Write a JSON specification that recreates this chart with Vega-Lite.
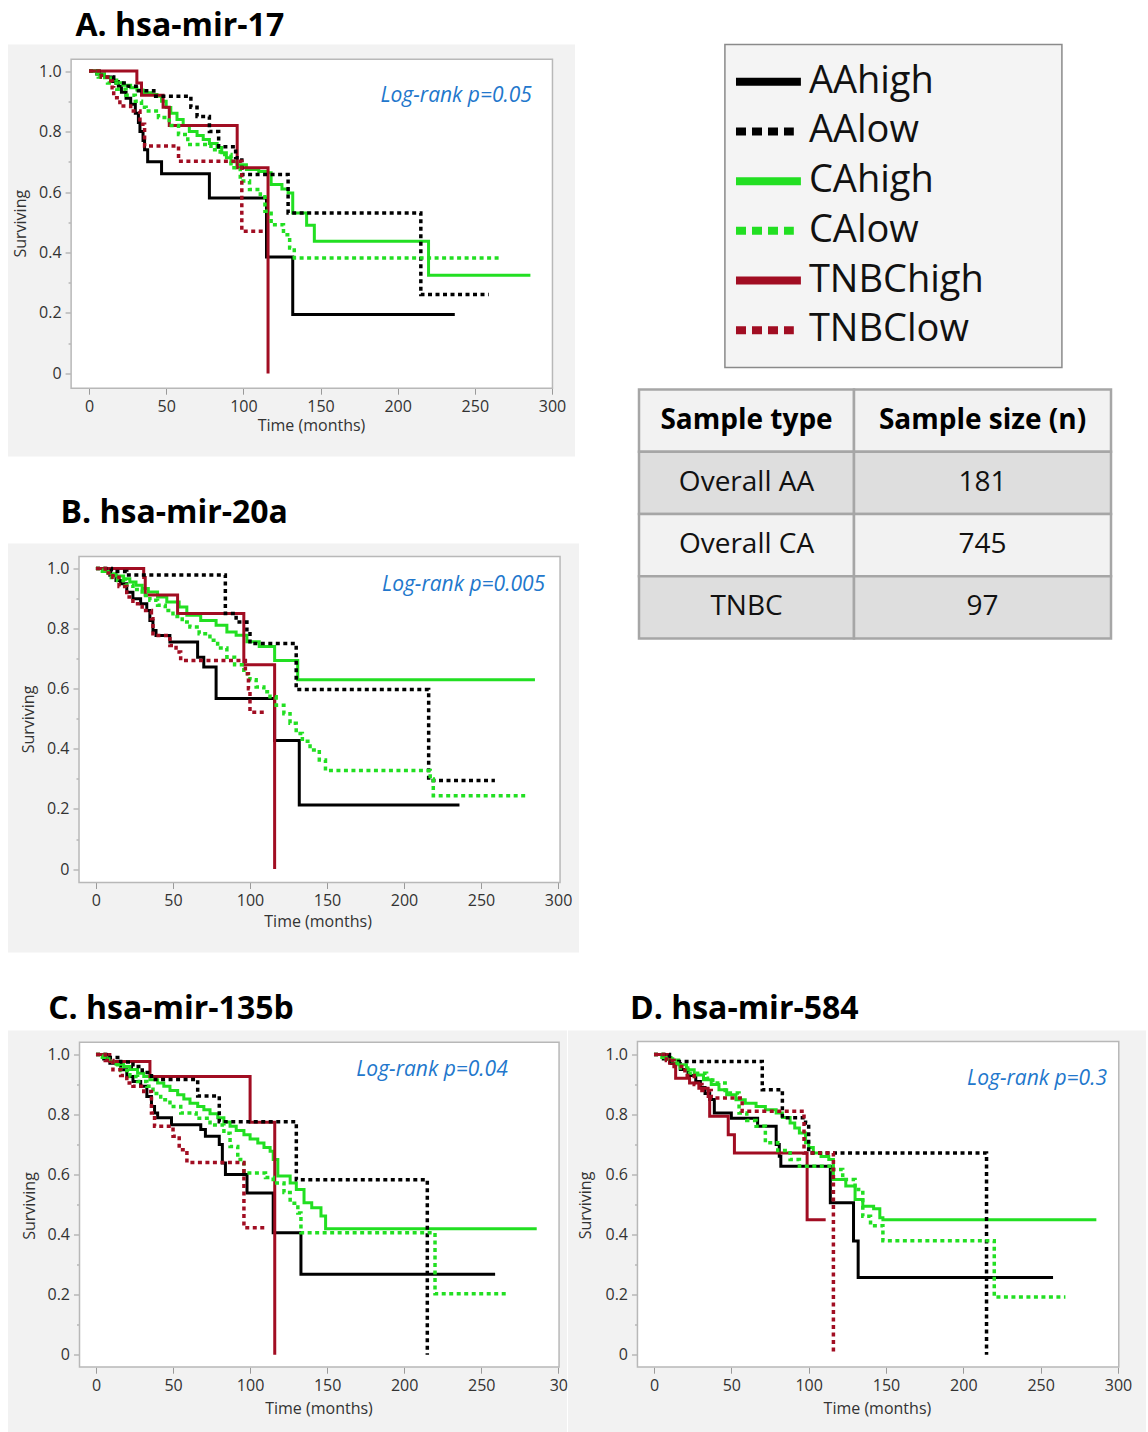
{
"$schema":"https://vega.github.io/schema/vega-lite/v6.json",
"padding":{"left":8,"top":9.5,"right":0,"bottom":0},
"background":"white",
"spacing":40,
"datasets":{
"km":[
{"panel":"A","group":"AAhigh","t":0,"s":1},{"panel":"A","group":"AAhigh","t":5,"s":0.99},{"panel":"A","group":"AAhigh","t":10,"s":0.98},{"panel":"A","group":"AAhigh","t":15,"s":0.965},{"panel":"A","group":"AAhigh","t":19,"s":0.95},{"panel":"A","group":"AAhigh","t":21,"s":0.93},{"panel":"A","group":"AAhigh","t":24,"s":0.91},{"panel":"A","group":"AAhigh","t":27,"s":0.89},{"panel":"A","group":"AAhigh","t":30,"s":0.86},{"panel":"A","group":"AAhigh","t":32,"s":0.83},{"panel":"A","group":"AAhigh","t":33,"s":0.8},{"panel":"A","group":"AAhigh","t":35,"s":0.77},{"panel":"A","group":"AAhigh","t":36,"s":0.74},{"panel":"A","group":"AAhigh","t":38,"s":0.7},{"panel":"A","group":"AAhigh","t":47,"s":0.66},{"panel":"A","group":"AAhigh","t":78,"s":0.58},{"panel":"A","group":"AAhigh","t":115,"s":0.385},{"panel":"A","group":"AAhigh","t":132,"s":0.195},{"panel":"A","group":"AAhigh","t":237,"s":0.195},
{"panel":"A","group":"AAlow","t":0,"s":1},{"panel":"A","group":"AAlow","t":8,"s":0.98},{"panel":"A","group":"AAlow","t":16,"s":0.96},{"panel":"A","group":"AAlow","t":24,"s":0.95},{"panel":"A","group":"AAlow","t":32,"s":0.935},{"panel":"A","group":"AAlow","t":42,"s":0.917},{"panel":"A","group":"AAlow","t":66,"s":0.88},{"panel":"A","group":"AAlow","t":70,"s":0.85},{"panel":"A","group":"AAlow","t":78,"s":0.8},{"panel":"A","group":"AAlow","t":84,"s":0.75},{"panel":"A","group":"AAlow","t":95,"s":0.713},{"panel":"A","group":"AAlow","t":99,"s":0.658},{"panel":"A","group":"AAlow","t":129,"s":0.531},{"panel":"A","group":"AAlow","t":215,"s":0.261},{"panel":"A","group":"AAlow","t":259,"s":0.261},
{"panel":"A","group":"CAhigh","t":0,"s":1},{"panel":"A","group":"CAhigh","t":5,"s":0.99},{"panel":"A","group":"CAhigh","t":10,"s":0.978},{"panel":"A","group":"CAhigh","t":14,"s":0.97},{"panel":"A","group":"CAhigh","t":18,"s":0.961},{"panel":"A","group":"CAhigh","t":22,"s":0.953},{"panel":"A","group":"CAhigh","t":27,"s":0.945},{"panel":"A","group":"CAhigh","t":31,"s":0.937},{"panel":"A","group":"CAhigh","t":35,"s":0.928},{"panel":"A","group":"CAhigh","t":40,"s":0.922},{"panel":"A","group":"CAhigh","t":44,"s":0.917},{"panel":"A","group":"CAhigh","t":47,"s":0.9},{"panel":"A","group":"CAhigh","t":50,"s":0.879},{"panel":"A","group":"CAhigh","t":53,"s":0.86},{"panel":"A","group":"CAhigh","t":57,"s":0.84},{"panel":"A","group":"CAhigh","t":61,"s":0.82},{"panel":"A","group":"CAhigh","t":65,"s":0.8},{"panel":"A","group":"CAhigh","t":70,"s":0.787},{"panel":"A","group":"CAhigh","t":74,"s":0.774},{"panel":"A","group":"CAhigh","t":78,"s":0.76},{"panel":"A","group":"CAhigh","t":83,"s":0.747},{"panel":"A","group":"CAhigh","t":86,"s":0.73},{"panel":"A","group":"CAhigh","t":89,"s":0.713},{"panel":"A","group":"CAhigh","t":92,"s":0.7},{"panel":"A","group":"CAhigh","t":96,"s":0.69},{"panel":"A","group":"CAhigh","t":102,"s":0.674},{"panel":"A","group":"CAhigh","t":110,"s":0.668},{"panel":"A","group":"CAhigh","t":115,"s":0.664},{"panel":"A","group":"CAhigh","t":118,"s":0.625},{"panel":"A","group":"CAhigh","t":125,"s":0.61},{"panel":"A","group":"CAhigh","t":129,"s":0.597},{"panel":"A","group":"CAhigh","t":132,"s":0.531},{"panel":"A","group":"CAhigh","t":141,"s":0.49},{"panel":"A","group":"CAhigh","t":146,"s":0.437},{"panel":"A","group":"CAhigh","t":220,"s":0.325},{"panel":"A","group":"CAhigh","t":286,"s":0.325},
{"panel":"A","group":"CAlow","t":0,"s":1},{"panel":"A","group":"CAlow","t":6,"s":0.98},{"panel":"A","group":"CAlow","t":12,"s":0.96},{"panel":"A","group":"CAlow","t":18,"s":0.94},{"panel":"A","group":"CAlow","t":24,"s":0.92},{"panel":"A","group":"CAlow","t":30,"s":0.9},{"panel":"A","group":"CAlow","t":34,"s":0.88},{"panel":"A","group":"CAlow","t":37,"s":0.868},{"panel":"A","group":"CAlow","t":45,"s":0.846},{"panel":"A","group":"CAlow","t":52,"s":0.82},{"panel":"A","group":"CAlow","t":58,"s":0.79},{"panel":"A","group":"CAlow","t":64,"s":0.757},{"panel":"A","group":"CAlow","t":79,"s":0.74},{"panel":"A","group":"CAlow","t":85,"s":0.724},{"panel":"A","group":"CAlow","t":92,"s":0.68},{"panel":"A","group":"CAlow","t":98,"s":0.636},{"panel":"A","group":"CAlow","t":104,"s":0.608},{"panel":"A","group":"CAlow","t":111,"s":0.592},{"panel":"A","group":"CAlow","t":114,"s":0.536},{"panel":"A","group":"CAlow","t":118,"s":0.492},{"panel":"A","group":"CAlow","t":126,"s":0.459},{"panel":"A","group":"CAlow","t":130,"s":0.415},{"panel":"A","group":"CAlow","t":133,"s":0.382},{"panel":"A","group":"CAlow","t":267,"s":0.382},
{"panel":"A","group":"TNBChigh","t":0,"s":1},{"panel":"A","group":"TNBChigh","t":31,"s":0.96},{"panel":"A","group":"TNBChigh","t":34,"s":0.92},{"panel":"A","group":"TNBChigh","t":48,"s":0.88},{"panel":"A","group":"TNBChigh","t":52,"s":0.82},{"panel":"A","group":"TNBChigh","t":96,"s":0.68},{"panel":"A","group":"TNBChigh","t":116,"s":0},
{"panel":"A","group":"TNBClow","t":0,"s":1},{"panel":"A","group":"TNBClow","t":8,"s":0.98},{"panel":"A","group":"TNBClow","t":12,"s":0.967},{"panel":"A","group":"TNBClow","t":15,"s":0.945},{"panel":"A","group":"TNBClow","t":16,"s":0.912},{"panel":"A","group":"TNBClow","t":20,"s":0.884},{"panel":"A","group":"TNBClow","t":27,"s":0.868},{"panel":"A","group":"TNBClow","t":33,"s":0.824},{"panel":"A","group":"TNBClow","t":36,"s":0.752},{"panel":"A","group":"TNBClow","t":58,"s":0.702},{"panel":"A","group":"TNBClow","t":99,"s":0.47},{"panel":"A","group":"TNBClow","t":113,"s":0.47},
{"panel":"B","group":"AAhigh","t":0,"s":1},{"panel":"B","group":"AAhigh","t":5,"s":0.99},{"panel":"B","group":"AAhigh","t":9,"s":0.977},{"panel":"B","group":"AAhigh","t":13,"s":0.96},{"panel":"B","group":"AAhigh","t":16,"s":0.949},{"panel":"B","group":"AAhigh","t":20,"s":0.921},{"panel":"B","group":"AAhigh","t":24,"s":0.899},{"panel":"B","group":"AAhigh","t":29,"s":0.883},{"panel":"B","group":"AAhigh","t":33,"s":0.86},{"panel":"B","group":"AAhigh","t":35,"s":0.827},{"panel":"B","group":"AAhigh","t":37,"s":0.794},{"panel":"B","group":"AAhigh","t":39,"s":0.777},{"panel":"B","group":"AAhigh","t":48,"s":0.755},{"panel":"B","group":"AAhigh","t":66,"s":0.705},{"panel":"B","group":"AAhigh","t":70,"s":0.672},{"panel":"B","group":"AAhigh","t":78,"s":0.567},{"panel":"B","group":"AAhigh","t":116,"s":0.428},{"panel":"B","group":"AAhigh","t":132,"s":0.213},{"panel":"B","group":"AAhigh","t":236,"s":0.213},
{"panel":"B","group":"AAlow","t":0,"s":1},{"panel":"B","group":"AAlow","t":10,"s":0.99},{"panel":"B","group":"AAlow","t":20,"s":0.978},{"panel":"B","group":"AAlow","t":84,"s":0.85},{"panel":"B","group":"AAlow","t":91,"s":0.822},{"panel":"B","group":"AAlow","t":98,"s":0.789},{"panel":"B","group":"AAlow","t":100,"s":0.75},{"panel":"B","group":"AAlow","t":130,"s":0.597},{"panel":"B","group":"AAlow","t":216,"s":0.295},{"panel":"B","group":"AAlow","t":259,"s":0.295},
{"panel":"B","group":"CAhigh","t":0,"s":1},{"panel":"B","group":"CAhigh","t":4,"s":0.99},{"panel":"B","group":"CAhigh","t":9,"s":0.982},{"panel":"B","group":"CAhigh","t":13,"s":0.975},{"panel":"B","group":"CAhigh","t":18,"s":0.966},{"panel":"B","group":"CAhigh","t":22,"s":0.955},{"panel":"B","group":"CAhigh","t":26,"s":0.944},{"panel":"B","group":"CAhigh","t":30,"s":0.933},{"panel":"B","group":"CAhigh","t":34,"s":0.922},{"panel":"B","group":"CAhigh","t":40,"s":0.905},{"panel":"B","group":"CAhigh","t":46,"s":0.888},{"panel":"B","group":"CAhigh","t":54,"s":0.872},{"panel":"B","group":"CAhigh","t":59,"s":0.844},{"panel":"B","group":"CAhigh","t":68,"s":0.827},{"panel":"B","group":"CAhigh","t":78,"s":0.811},{"panel":"B","group":"CAhigh","t":85,"s":0.789},{"panel":"B","group":"CAhigh","t":91,"s":0.778},{"panel":"B","group":"CAhigh","t":98,"s":0.756},{"panel":"B","group":"CAhigh","t":106,"s":0.74},{"panel":"B","group":"CAhigh","t":116,"s":0.694},{"panel":"B","group":"CAhigh","t":131,"s":0.63},{"panel":"B","group":"CAhigh","t":285,"s":0.63},
{"panel":"B","group":"CAlow","t":0,"s":1},{"panel":"B","group":"CAlow","t":5,"s":0.985},{"panel":"B","group":"CAlow","t":10,"s":0.97},{"panel":"B","group":"CAlow","t":14,"s":0.96},{"panel":"B","group":"CAlow","t":19,"s":0.945},{"panel":"B","group":"CAlow","t":24,"s":0.93},{"panel":"B","group":"CAlow","t":30,"s":0.91},{"panel":"B","group":"CAlow","t":35,"s":0.894},{"panel":"B","group":"CAlow","t":40,"s":0.878},{"panel":"B","group":"CAlow","t":45,"s":0.86},{"panel":"B","group":"CAlow","t":50,"s":0.84},{"panel":"B","group":"CAlow","t":56,"s":0.822},{"panel":"B","group":"CAlow","t":61,"s":0.805},{"panel":"B","group":"CAlow","t":67,"s":0.783},{"panel":"B","group":"CAlow","t":74,"s":0.761},{"panel":"B","group":"CAlow","t":79,"s":0.735},{"panel":"B","group":"CAlow","t":85,"s":0.705},{"panel":"B","group":"CAlow","t":90,"s":0.68},{"panel":"B","group":"CAlow","t":96,"s":0.65},{"panel":"B","group":"CAlow","t":100,"s":0.63},{"panel":"B","group":"CAlow","t":104,"s":0.606},{"panel":"B","group":"CAlow","t":109,"s":0.59},{"panel":"B","group":"CAlow","t":113,"s":0.573},{"panel":"B","group":"CAlow","t":117,"s":0.545},{"panel":"B","group":"CAlow","t":122,"s":0.517},{"panel":"B","group":"CAlow","t":126,"s":0.485},{"panel":"B","group":"CAlow","t":130,"s":0.451},{"panel":"B","group":"CAlow","t":134,"s":0.425},{"panel":"B","group":"CAlow","t":139,"s":0.396},{"panel":"B","group":"CAlow","t":145,"s":0.363},{"panel":"B","group":"CAlow","t":149,"s":0.328},{"panel":"B","group":"CAlow","t":217,"s":0.3},{"panel":"B","group":"CAlow","t":219,"s":0.244},{"panel":"B","group":"CAlow","t":279,"s":0.244},
{"panel":"B","group":"TNBChigh","t":0,"s":1},{"panel":"B","group":"TNBChigh","t":31,"s":0.97},{"panel":"B","group":"TNBChigh","t":32,"s":0.912},{"panel":"B","group":"TNBChigh","t":53,"s":0.85},{"panel":"B","group":"TNBChigh","t":96,"s":0.68},{"panel":"B","group":"TNBChigh","t":116,"s":0},
{"panel":"B","group":"TNBClow","t":0,"s":1},{"panel":"B","group":"TNBClow","t":6,"s":0.985},{"panel":"B","group":"TNBClow","t":11,"s":0.971},{"panel":"B","group":"TNBClow","t":15,"s":0.94},{"panel":"B","group":"TNBClow","t":20,"s":0.905},{"panel":"B","group":"TNBClow","t":24,"s":0.883},{"panel":"B","group":"TNBClow","t":30,"s":0.86},{"panel":"B","group":"TNBClow","t":36,"s":0.833},{"panel":"B","group":"TNBClow","t":37,"s":0.777},{"panel":"B","group":"TNBClow","t":48,"s":0.744},{"panel":"B","group":"TNBClow","t":52,"s":0.722},{"panel":"B","group":"TNBClow","t":55,"s":0.694},{"panel":"B","group":"TNBClow","t":97,"s":0.65},{"panel":"B","group":"TNBClow","t":99,"s":0.6},{"panel":"B","group":"TNBClow","t":100,"s":0.522},{"panel":"B","group":"TNBClow","t":111,"s":0.522},
{"panel":"C","group":"AAhigh","t":0,"s":1},{"panel":"C","group":"AAhigh","t":5,"s":0.985},{"panel":"C","group":"AAhigh","t":9,"s":0.971},{"panel":"C","group":"AAhigh","t":16,"s":0.949},{"panel":"C","group":"AAhigh","t":20,"s":0.927},{"panel":"C","group":"AAhigh","t":24,"s":0.91},{"panel":"C","group":"AAhigh","t":29,"s":0.894},{"panel":"C","group":"AAhigh","t":33,"s":0.86},{"panel":"C","group":"AAhigh","t":36,"s":0.827},{"panel":"C","group":"AAhigh","t":38,"s":0.805},{"panel":"C","group":"AAhigh","t":40,"s":0.789},{"panel":"C","group":"AAhigh","t":49,"s":0.766},{"panel":"C","group":"AAhigh","t":68,"s":0.75},{"panel":"C","group":"AAhigh","t":71,"s":0.728},{"panel":"C","group":"AAhigh","t":80,"s":0.7},{"panel":"C","group":"AAhigh","t":82,"s":0.639},{"panel":"C","group":"AAhigh","t":84,"s":0.6},{"panel":"C","group":"AAhigh","t":98,"s":0.539},{"panel":"C","group":"AAhigh","t":115,"s":0.406},{"panel":"C","group":"AAhigh","t":133,"s":0.268},{"panel":"C","group":"AAhigh","t":259,"s":0.268},
{"panel":"C","group":"AAlow","t":0,"s":1},{"panel":"C","group":"AAlow","t":8,"s":0.99},{"panel":"C","group":"AAlow","t":16,"s":0.975},{"panel":"C","group":"AAlow","t":24,"s":0.96},{"panel":"C","group":"AAlow","t":30,"s":0.94},{"panel":"C","group":"AAlow","t":36,"s":0.917},{"panel":"C","group":"AAlow","t":66,"s":0.862},{"panel":"C","group":"AAlow","t":80,"s":0.776},{"panel":"C","group":"AAlow","t":130,"s":0.583},{"panel":"C","group":"AAlow","t":215,"s":0},
{"panel":"C","group":"CAhigh","t":0,"s":1},{"panel":"C","group":"CAhigh","t":4,"s":0.99},{"panel":"C","group":"CAhigh","t":9,"s":0.977},{"panel":"C","group":"CAhigh","t":13,"s":0.968},{"panel":"C","group":"CAhigh","t":18,"s":0.96},{"panel":"C","group":"CAhigh","t":22,"s":0.95},{"panel":"C","group":"CAhigh","t":27,"s":0.938},{"panel":"C","group":"CAhigh","t":31,"s":0.927},{"panel":"C","group":"CAhigh","t":35,"s":0.916},{"panel":"C","group":"CAhigh","t":40,"s":0.905},{"panel":"C","group":"CAhigh","t":44,"s":0.894},{"panel":"C","group":"CAhigh","t":48,"s":0.88},{"panel":"C","group":"CAhigh","t":53,"s":0.866},{"panel":"C","group":"CAhigh","t":57,"s":0.852},{"panel":"C","group":"CAhigh","t":61,"s":0.838},{"panel":"C","group":"CAhigh","t":66,"s":0.827},{"panel":"C","group":"CAhigh","t":70,"s":0.816},{"panel":"C","group":"CAhigh","t":74,"s":0.803},{"panel":"C","group":"CAhigh","t":79,"s":0.789},{"panel":"C","group":"CAhigh","t":83,"s":0.775},{"panel":"C","group":"CAhigh","t":87,"s":0.761},{"panel":"C","group":"CAhigh","t":91,"s":0.747},{"panel":"C","group":"CAhigh","t":96,"s":0.733},{"panel":"C","group":"CAhigh","t":100,"s":0.719},{"panel":"C","group":"CAhigh","t":105,"s":0.705},{"panel":"C","group":"CAhigh","t":109,"s":0.69},{"panel":"C","group":"CAhigh","t":113,"s":0.678},{"panel":"C","group":"CAhigh","t":115,"s":0.65},{"panel":"C","group":"CAhigh","t":118,"s":0.595},{"panel":"C","group":"CAhigh","t":126,"s":0.572},{"panel":"C","group":"CAhigh","t":130,"s":0.55},{"panel":"C","group":"CAhigh","t":135,"s":0.506},{"panel":"C","group":"CAhigh","t":140,"s":0.49},{"panel":"C","group":"CAhigh","t":146,"s":0.462},{"panel":"C","group":"CAhigh","t":149,"s":0.42},{"panel":"C","group":"CAhigh","t":286,"s":0.42},
{"panel":"C","group":"CAlow","t":0,"s":1},{"panel":"C","group":"CAlow","t":5,"s":0.985},{"panel":"C","group":"CAlow","t":11,"s":0.966},{"panel":"C","group":"CAlow","t":16,"s":0.947},{"panel":"C","group":"CAlow","t":22,"s":0.927},{"panel":"C","group":"CAlow","t":27,"s":0.91},{"panel":"C","group":"CAlow","t":33,"s":0.894},{"panel":"C","group":"CAlow","t":37,"s":0.87},{"panel":"C","group":"CAlow","t":42,"s":0.849},{"panel":"C","group":"CAlow","t":48,"s":0.827},{"panel":"C","group":"CAlow","t":55,"s":0.805},{"panel":"C","group":"CAlow","t":65,"s":0.788},{"panel":"C","group":"CAlow","t":74,"s":0.765},{"panel":"C","group":"CAlow","t":83,"s":0.738},{"panel":"C","group":"CAlow","t":87,"s":0.694},{"panel":"C","group":"CAlow","t":92,"s":0.65},{"panel":"C","group":"CAlow","t":96,"s":0.605},{"panel":"C","group":"CAlow","t":110,"s":0.59},{"panel":"C","group":"CAlow","t":115,"s":0.572},{"panel":"C","group":"CAlow","t":122,"s":0.54},{"panel":"C","group":"CAlow","t":126,"s":0.505},{"panel":"C","group":"CAlow","t":131,"s":0.472},{"panel":"C","group":"CAlow","t":133,"s":0.406},{"panel":"C","group":"CAlow","t":220,"s":0.203},{"panel":"C","group":"CAlow","t":267,"s":0.203},
{"panel":"C","group":"TNBChigh","t":0,"s":1},{"panel":"C","group":"TNBChigh","t":9,"s":0.977},{"panel":"C","group":"TNBChigh","t":35,"s":0.927},{"panel":"C","group":"TNBChigh","t":100,"s":0.774},{"panel":"C","group":"TNBChigh","t":116,"s":0},
{"panel":"C","group":"TNBClow","t":0,"s":1},{"panel":"C","group":"TNBClow","t":6,"s":0.98},{"panel":"C","group":"TNBClow","t":11,"s":0.949},{"panel":"C","group":"TNBClow","t":16,"s":0.93},{"panel":"C","group":"TNBClow","t":20,"s":0.905},{"panel":"C","group":"TNBClow","t":24,"s":0.894},{"panel":"C","group":"TNBClow","t":31,"s":0.877},{"panel":"C","group":"TNBClow","t":36,"s":0.805},{"panel":"C","group":"TNBClow","t":38,"s":0.761},{"panel":"C","group":"TNBClow","t":50,"s":0.728},{"panel":"C","group":"TNBClow","t":54,"s":0.683},{"panel":"C","group":"TNBClow","t":59,"s":0.64},{"panel":"C","group":"TNBClow","t":96,"s":0.423},{"panel":"C","group":"TNBClow","t":111,"s":0.423},
{"panel":"D","group":"AAhigh","t":0,"s":1},{"panel":"D","group":"AAhigh","t":6,"s":0.985},{"panel":"D","group":"AAhigh","t":11,"s":0.97},{"panel":"D","group":"AAhigh","t":17,"s":0.95},{"panel":"D","group":"AAhigh","t":22,"s":0.93},{"panel":"D","group":"AAhigh","t":27,"s":0.91},{"panel":"D","group":"AAhigh","t":30,"s":0.89},{"panel":"D","group":"AAhigh","t":33,"s":0.87},{"panel":"D","group":"AAhigh","t":36,"s":0.85},{"panel":"D","group":"AAhigh","t":39,"s":0.805},{"panel":"D","group":"AAhigh","t":50,"s":0.788},{"panel":"D","group":"AAhigh","t":67,"s":0.761},{"panel":"D","group":"AAhigh","t":79,"s":0.7},{"panel":"D","group":"AAhigh","t":81,"s":0.661},{"panel":"D","group":"AAhigh","t":82,"s":0.628},{"panel":"D","group":"AAhigh","t":114,"s":0.506},{"panel":"D","group":"AAhigh","t":129,"s":0.379},{"panel":"D","group":"AAhigh","t":132,"s":0.257},{"panel":"D","group":"AAhigh","t":258,"s":0.257},
{"panel":"D","group":"AAlow","t":0,"s":1},{"panel":"D","group":"AAlow","t":10,"s":0.977},{"panel":"D","group":"AAlow","t":70,"s":0.883},{"panel":"D","group":"AAlow","t":83,"s":0.789},{"panel":"D","group":"AAlow","t":98,"s":0.772},{"panel":"D","group":"AAlow","t":100,"s":0.672},{"panel":"D","group":"AAlow","t":215,"s":0},
{"panel":"D","group":"CAhigh","t":0,"s":1},{"panel":"D","group":"CAhigh","t":5,"s":0.99},{"panel":"D","group":"CAhigh","t":11,"s":0.982},{"panel":"D","group":"CAhigh","t":16,"s":0.966},{"panel":"D","group":"CAhigh","t":21,"s":0.949},{"panel":"D","group":"CAhigh","t":26,"s":0.932},{"panel":"D","group":"CAhigh","t":32,"s":0.916},{"panel":"D","group":"CAhigh","t":37,"s":0.9},{"panel":"D","group":"CAhigh","t":42,"s":0.883},{"panel":"D","group":"CAhigh","t":47,"s":0.866},{"panel":"D","group":"CAhigh","t":53,"s":0.849},{"panel":"D","group":"CAhigh","t":59,"s":0.838},{"panel":"D","group":"CAhigh","t":66,"s":0.827},{"panel":"D","group":"CAhigh","t":72,"s":0.816},{"panel":"D","group":"CAhigh","t":79,"s":0.805},{"panel":"D","group":"CAhigh","t":83,"s":0.79},{"panel":"D","group":"CAhigh","t":88,"s":0.772},{"panel":"D","group":"CAhigh","t":91,"s":0.755},{"panel":"D","group":"CAhigh","t":94,"s":0.739},{"panel":"D","group":"CAhigh","t":98,"s":0.706},{"panel":"D","group":"CAhigh","t":100,"s":0.69},{"panel":"D","group":"CAhigh","t":103,"s":0.672},{"panel":"D","group":"CAhigh","t":108,"s":0.66},{"panel":"D","group":"CAhigh","t":113,"s":0.65},{"panel":"D","group":"CAhigh","t":116,"s":0.584},{"panel":"D","group":"CAhigh","t":124,"s":0.562},{"panel":"D","group":"CAhigh","t":130,"s":0.517},{"panel":"D","group":"CAhigh","t":135,"s":0.495},{"panel":"D","group":"CAhigh","t":142,"s":0.486},{"panel":"D","group":"CAhigh","t":146,"s":0.456},{"panel":"D","group":"CAhigh","t":148,"s":0.45},{"panel":"D","group":"CAhigh","t":286,"s":0.45},
{"panel":"D","group":"CAlow","t":0,"s":1},{"panel":"D","group":"CAlow","t":6,"s":0.985},{"panel":"D","group":"CAlow","t":12,"s":0.971},{"panel":"D","group":"CAlow","t":17,"s":0.955},{"panel":"D","group":"CAlow","t":23,"s":0.938},{"panel":"D","group":"CAlow","t":34,"s":0.921},{"panel":"D","group":"CAlow","t":38,"s":0.905},{"panel":"D","group":"CAlow","t":46,"s":0.872},{"panel":"D","group":"CAlow","t":55,"s":0.805},{"panel":"D","group":"CAlow","t":60,"s":0.78},{"panel":"D","group":"CAlow","t":66,"s":0.761},{"panel":"D","group":"CAlow","t":72,"s":0.706},{"panel":"D","group":"CAlow","t":80,"s":0.68},{"panel":"D","group":"CAlow","t":88,"s":0.65},{"panel":"D","group":"CAlow","t":94,"s":0.628},{"panel":"D","group":"CAlow","t":115,"s":0.617},{"panel":"D","group":"CAlow","t":122,"s":0.584},{"panel":"D","group":"CAlow","t":130,"s":0.55},{"panel":"D","group":"CAlow","t":135,"s":0.461},{"panel":"D","group":"CAlow","t":140,"s":0.43},{"panel":"D","group":"CAlow","t":148,"s":0.38},{"panel":"D","group":"CAlow","t":220,"s":0.192},{"panel":"D","group":"CAlow","t":266,"s":0.192},
{"panel":"D","group":"TNBChigh","t":0,"s":1},{"panel":"D","group":"TNBChigh","t":10,"s":0.971},{"panel":"D","group":"TNBChigh","t":14,"s":0.921},{"panel":"D","group":"TNBChigh","t":23,"s":0.905},{"panel":"D","group":"TNBChigh","t":29,"s":0.888},{"panel":"D","group":"TNBChigh","t":35,"s":0.86},{"panel":"D","group":"TNBChigh","t":36,"s":0.794},{"panel":"D","group":"TNBChigh","t":48,"s":0.733},{"panel":"D","group":"TNBChigh","t":52,"s":0.672},{"panel":"D","group":"TNBChigh","t":99,"s":0.45},{"panel":"D","group":"TNBChigh","t":111,"s":0.45},
{"panel":"D","group":"TNBClow","t":0,"s":1},{"panel":"D","group":"TNBClow","t":8,"s":0.98},{"panel":"D","group":"TNBClow","t":13,"s":0.96},{"panel":"D","group":"TNBClow","t":20,"s":0.93},{"panel":"D","group":"TNBClow","t":26,"s":0.9},{"panel":"D","group":"TNBClow","t":31,"s":0.88},{"panel":"D","group":"TNBClow","t":37,"s":0.855},{"panel":"D","group":"TNBClow","t":57,"s":0.811},{"panel":"D","group":"TNBClow","t":97,"s":0.672},{"panel":"D","group":"TNBClow","t":116,"s":0}
],
"notes":[{"panel":"A","note":"Log-rank p=0.05"},{"panel":"B","note":"Log-rank p=0.005"},{"panel":"C","note":"Log-rank p=0.04"},{"panel":"D","note":"Log-rank p=0.3"}],
"legend":[{"group":"AAhigh"},{"group":"AAlow"},{"group":"CAhigh"},{"group":"CAlow"},{"group":"TNBChigh"},{"group":"TNBClow"}],
"table":[{"row":"header","type":"Sample type","size":"Sample size (n)"},{"row":"Overall AA","type":"Overall AA","size":"181"},{"row":"Overall CA","type":"Overall CA","size":"745"},{"row":"TNBC","type":"TNBC","size":"97"}]
},
"vconcat":[
{"spacing":58,"hconcat":[
 {"spacing":40,"vconcat":[
  {"width":567,"height":412,
   "title":{"text":"A. hsa-mir-17","dx":67.5,"offset":2},
   "view":{"fill":"#f2f2f2","stroke":null},
   "layer":[
    {"data":{"values":[{}]},"mark":{"type":"rect","fill":"#ffffff","stroke":"#b8b8b8","strokeWidth":1.5},"encoding":{
      "x":{"datum":-11.6,"type":"quantitative","scale":{"domain":[-52.5,314.9],"nice":false,"zero":false},"axis":{"title":"Time (months)","values":[0,50,100,150,200,250,300],"offset":-68.3,"titleX":303,"titleY":29.3,"labelPadding":4}},
      "x2":{"datum":300.3},
      "y":{"datum":-0.0486,"type":"quantitative","scale":{"domain":[-0.2745,1.0877],"nice":false,"zero":false},"axis":{"title":"Surviving","values":[0,0.1,0.2,0.3,0.4,0.5,0.6,0.7,0.8,0.9,1],"offset":-63.1,"titleX":-43,"titleY":178.7,"labelExpr":"round(datum.value*10)%2==0 ? (datum.value==0 ? '0' : format(datum.value,'.1f')) : ''","tickSize":{"condition":{"test":"round(datum.value*10)%2==0","value":6},"value":3}}},
      "y2":{"datum":1.039}}},
    {"data":{"name":"km"},"transform":[{"filter":"datum.panel=='A' && indexof(datum.group,'high')>0"}],"mark":{"type":"line","interpolate":"step-after","strokeWidth":3},"encoding":{"x":{"field":"t","type":"quantitative","scale":{"domain":[-52.5,314.9],"nice":false,"zero":false}},"y":{"field":"s","type":"quantitative","scale":{"domain":[-0.2745,1.0877],"nice":false,"zero":false}},"color":{"field":"group","type":"nominal","scale":{"domain":["AAhigh","AAlow","CAhigh","CAlow","TNBChigh","TNBClow"],"range":["#000000","#000000","#22df22","#22df22","#a10d22","#a10d22"]},"legend":null}}},
    {"data":{"name":"km"},"transform":[{"filter":"datum.panel=='A' && indexof(datum.group,'low')>0"}],"mark":{"type":"line","interpolate":"step-after","strokeWidth":3.5,"strokeDash":[4,3.5]},"encoding":{"x":{"field":"t","type":"quantitative","scale":{"domain":[-52.5,314.9],"nice":false,"zero":false}},"y":{"field":"s","type":"quantitative","scale":{"domain":[-0.2745,1.0877],"nice":false,"zero":false}},"color":{"field":"group","type":"nominal","legend":null}}},
    {"data":{"name":"notes"},"transform":[{"filter":"datum.panel=='A'"}],"mark":{"type":"text","align":"right","baseline":"middle","font":"Open Sans","fontStyle":"italic","fontSize":21,"color":"#2277cc"},"encoding":{"x":{"datum":287,"type":"quantitative"},"y":{"datum":0.917,"type":"quantitative"},"text":{"field":"note"}}}
   ]},
  {"width":571,"height":409,
   "title":{"text":"B. hsa-mir-20a","dx":52.5,"offset":14},
   "view":{"fill":"#f2f2f2","stroke":null},
   "layer":[
    {"data":{"values":[{}]},"mark":{"type":"rect","fill":"#ffffff","stroke":"#b8b8b8","strokeWidth":1.5},"encoding":{
      "x":{"datum":-11,"type":"quantitative","scale":{"domain":[-57.1,313.6],"nice":false,"zero":false},"axis":{"title":"Time (months)","values":[0,50,100,150,200,250,300],"offset":-70,"titleX":309.6,"titleY":31.3,"labelPadding":4}},
      "x2":{"datum":301.3},
      "y":{"datum":-0.0446,"type":"quantitative","scale":{"domain":[-0.2775,1.083],"nice":false,"zero":false},"axis":{"title":"Surviving","values":[0,0.1,0.2,0.3,0.4,0.5,0.6,0.7,0.8,0.9,1],"offset":-71,"titleX":-43,"titleY":175.5,"labelExpr":"round(datum.value*10)%2==0 ? (datum.value==0 ? '0' : format(datum.value,'.1f')) : ''","tickSize":{"condition":{"test":"round(datum.value*10)%2==0","value":6},"value":3}}},
      "y2":{"datum":1.04}}},
    {"data":{"name":"km"},"transform":[{"filter":"datum.panel=='B' && indexof(datum.group,'high')>0"}],"mark":{"type":"line","interpolate":"step-after","strokeWidth":3},"encoding":{"x":{"field":"t","type":"quantitative","scale":{"domain":[-57.1,313.6],"nice":false,"zero":false}},"y":{"field":"s","type":"quantitative","scale":{"domain":[-0.2775,1.083],"nice":false,"zero":false}},"color":{"field":"group","type":"nominal","scale":{"domain":["AAhigh","AAlow","CAhigh","CAlow","TNBChigh","TNBClow"],"range":["#000000","#000000","#22df22","#22df22","#a10d22","#a10d22"]},"legend":null}}},
    {"data":{"name":"km"},"transform":[{"filter":"datum.panel=='B' && indexof(datum.group,'low')>0"}],"mark":{"type":"line","interpolate":"step-after","strokeWidth":3.5,"strokeDash":[4,3.5]},"encoding":{"x":{"field":"t","type":"quantitative","scale":{"domain":[-57.1,313.6],"nice":false,"zero":false}},"y":{"field":"s","type":"quantitative","scale":{"domain":[-0.2775,1.083],"nice":false,"zero":false}},"color":{"field":"group","type":"nominal","legend":null}}},
    {"data":{"name":"notes"},"transform":[{"filter":"datum.panel=='B'"}],"mark":{"type":"text","align":"right","baseline":"middle","font":"Open Sans","fontStyle":"italic","fontSize":21,"color":"#2277cc"},"encoding":{"x":{"datum":291.6,"type":"quantitative"},"y":{"datum":0.946,"type":"quantitative"},"text":{"field":"note"}}}
   ]}
 ]},
 {"spacing":19,"vconcat":[
  {"width":472,"height":323,
   "layer":[
    {"data":{"values":[{}]},"mark":{"type":"rect","fill":"#f4f4f4","stroke":"#8a8a8a","strokeWidth":1.5},"encoding":{"x":{"datum":0.182,"type":"quantitative","scale":{"domain":[0,1],"nice":false},"axis":null},"x2":{"datum":0.896}}},
    {"data":{"name":"legend"},"transform":[{"filter":"indexof(datum.group,'high')>0"}],"mark":{"type":"rule","strokeWidth":8,"strokeCap":"butt"},"encoding":{"x":{"datum":0.2055,"type":"quantitative","axis":null},"x2":{"datum":0.343},"y":{"field":"group","type":"nominal","scale":{"type":"point","domain":["AAhigh","AAlow","CAhigh","CAlow","TNBChigh","TNBClow"],"padding":0.75},"axis":null},"color":{"field":"group","type":"nominal","scale":{"domain":["AAhigh","AAlow","CAhigh","CAlow","TNBChigh","TNBClow"],"range":["#000000","#000000","#22df22","#22df22","#a10d22","#a10d22"]},"legend":null}}},
    {"data":{"name":"legend"},"transform":[{"filter":"indexof(datum.group,'low')>0"}],"mark":{"type":"rule","strokeWidth":8,"strokeCap":"butt","strokeDash":[10,6]},"encoding":{"x":{"datum":0.2055,"type":"quantitative","axis":null},"x2":{"datum":0.328},"y":{"field":"group","type":"nominal","axis":null},"color":{"field":"group","type":"nominal","legend":null}}},
    {"data":{"name":"legend"},"mark":{"type":"text","align":"left","baseline":"middle","font":"Open Sans","fontSize":38,"color":"#111111"},"encoding":{"x":{"datum":0.36,"type":"quantitative","axis":null},"y":{"field":"group","type":"nominal","axis":null},"text":{"field":"group"}}}
   ]},
  {"width":472,"height":249,
   "data":{"name":"table"},
   "layer":[
    {"mark":{"type":"rect","stroke":"#a6a6a6","strokeWidth":2.5},"encoding":{"x":{"datum":0,"type":"quantitative","scale":{"domain":[0,1],"nice":false},"axis":null},"x2":{"datum":0.4555},"y":{"field":"row","type":"nominal","scale":{"type":"band","domain":["header","Overall AA","Overall CA","TNBC"],"paddingInner":0,"paddingOuter":0},"axis":null},"fill":{"field":"row","type":"nominal","scale":{"domain":["header","Overall AA","Overall CA","TNBC"],"range":["#f2f2f2","#dedede","#f2f2f2","#dedede"]},"legend":null}}},
    {"mark":{"type":"rect","stroke":"#a6a6a6","strokeWidth":2.5},"encoding":{"x":{"datum":0.4555,"type":"quantitative","axis":null},"x2":{"datum":1},"y":{"field":"row","type":"nominal","axis":null},"fill":{"field":"row","type":"nominal","legend":null}}},
    {"transform":[{"filter":"datum.row=='header'"}],"mark":{"type":"text","font":"Open Sans","fontSize":28,"fontWeight":"bold","color":"#000000"},"encoding":{"x":{"datum":0.2278,"type":"quantitative","axis":null},"y":{"field":"row","type":"nominal","axis":null},"text":{"field":"type"}}},
    {"transform":[{"filter":"datum.row!='header'"}],"mark":{"type":"text","font":"Open Sans","fontSize":28,"color":"#111111"},"encoding":{"x":{"datum":0.2278,"type":"quantitative","axis":null},"y":{"field":"row","type":"nominal","axis":null},"text":{"field":"type"}}},
    {"transform":[{"filter":"datum.row=='header'"}],"mark":{"type":"text","font":"Open Sans","fontSize":28,"fontWeight":"bold","color":"#000000"},"encoding":{"x":{"datum":0.7278,"type":"quantitative","axis":null},"y":{"field":"row","type":"nominal","axis":null},"text":{"field":"size"}}},
    {"transform":[{"filter":"datum.row!='header'"}],"mark":{"type":"text","font":"Open Sans","fontSize":28,"color":"#111111"},"encoding":{"x":{"datum":0.7278,"type":"quantitative","axis":null},"y":{"field":"row","type":"nominal","axis":null},"text":{"field":"size"}}}
   ]}
 ]}
]},
{"spacing":-2,"hconcat":[
  {"width":559,"height":402,
   "title":{"text":"C. hsa-mir-135b","dx":40.2,"offset":5},
   "view":{"fill":"#f2f2f2","stroke":null},
   "layer":[
    {"data":{"values":[{}]},"mark":{"type":"rect","fill":"#ffffff","stroke":"#b8b8b8","strokeWidth":1.5},"encoding":{
      "x":{"datum":-10.7,"type":"quantitative","scale":{"domain":[-57.1,305.65],"nice":false,"zero":false},"axis":{"title":"Time (months)","values":[0,50,100,150,200,250,300],"offset":-65.3,"titleX":310.5,"titleY":33,"labelPadding":4,"labelExpr":"datum.value==300 ? '30' : datum.label"}},
      "x2":{"datum":300.5},
      "y":{"datum":-0.041,"type":"quantitative","scale":{"domain":[-0.259,1.08],"nice":false,"zero":false},"axis":{"title":"Surviving","values":[0,0.1,0.2,0.3,0.4,0.5,0.6,0.7,0.8,0.9,1],"offset":-71.5,"titleX":-42.3,"titleY":175,"labelExpr":"round(datum.value*10)%2==0 ? (datum.value==0 ? '0' : format(datum.value,'.1f')) : ''","tickSize":{"condition":{"test":"round(datum.value*10)%2==0","value":6},"value":3}}},
      "y2":{"datum":1.041}}},
    {"data":{"name":"km"},"transform":[{"filter":"datum.panel=='C' && indexof(datum.group,'high')>0"}],"mark":{"type":"line","interpolate":"step-after","strokeWidth":3},"encoding":{"x":{"field":"t","type":"quantitative","scale":{"domain":[-57.1,305.65],"nice":false,"zero":false}},"y":{"field":"s","type":"quantitative","scale":{"domain":[-0.259,1.08],"nice":false,"zero":false}},"color":{"field":"group","type":"nominal","scale":{"domain":["AAhigh","AAlow","CAhigh","CAlow","TNBChigh","TNBClow"],"range":["#000000","#000000","#22df22","#22df22","#a10d22","#a10d22"]},"legend":null}}},
    {"data":{"name":"km"},"transform":[{"filter":"datum.panel=='C' && indexof(datum.group,'low')>0"}],"mark":{"type":"line","interpolate":"step-after","strokeWidth":3.5,"strokeDash":[4,3.5]},"encoding":{"x":{"field":"t","type":"quantitative","scale":{"domain":[-57.1,305.65],"nice":false,"zero":false}},"y":{"field":"s","type":"quantitative","scale":{"domain":[-0.259,1.08],"nice":false,"zero":false}},"color":{"field":"group","type":"nominal","legend":null}}},
    {"data":{"name":"notes"},"transform":[{"filter":"datum.panel=='C'"}],"mark":{"type":"text","align":"right","baseline":"middle","font":"Open Sans","fontStyle":"italic","fontSize":21,"color":"#2277cc"},"encoding":{"x":{"datum":267.2,"type":"quantitative"},"y":{"datum":0.95,"type":"quantitative"},"text":{"field":"note"}}}
   ]},
  {"width":578,"height":402,
   "title":{"text":"D. hsa-mir-584","dx":62,"offset":5},
   "view":{"fill":"#f2f2f2","stroke":null},
   "layer":[
    {"data":{"values":[{}]},"mark":{"type":"rect","fill":"#ffffff","stroke":"#b8b8b8","strokeWidth":1.5},"encoding":{
      "x":{"datum":-10.7,"type":"quantitative","scale":{"domain":[-55.6,318.1],"nice":false,"zero":false},"axis":{"title":"Time (months)","values":[0,50,100,150,200,250,300],"offset":-65.3,"titleX":308.9,"titleY":33,"labelPadding":4}},
      "x2":{"datum":300.5},
      "y":{"datum":-0.041,"type":"quantitative","scale":{"domain":[-0.259,1.08],"nice":false,"zero":false},"axis":{"title":"Surviving","values":[0,0.1,0.2,0.3,0.4,0.5,0.6,0.7,0.8,0.9,1],"offset":-69.5,"titleX":-44,"titleY":174.5,"labelExpr":"round(datum.value*10)%2==0 ? (datum.value==0 ? '0' : format(datum.value,'.1f')) : ''","tickSize":{"condition":{"test":"round(datum.value*10)%2==0","value":6},"value":3}}},
      "y2":{"datum":1.043}}},
    {"data":{"name":"km"},"transform":[{"filter":"datum.panel=='D' && indexof(datum.group,'high')>0"}],"mark":{"type":"line","interpolate":"step-after","strokeWidth":3},"encoding":{"x":{"field":"t","type":"quantitative","scale":{"domain":[-55.6,318.1],"nice":false,"zero":false}},"y":{"field":"s","type":"quantitative","scale":{"domain":[-0.259,1.08],"nice":false,"zero":false}},"color":{"field":"group","type":"nominal","scale":{"domain":["AAhigh","AAlow","CAhigh","CAlow","TNBChigh","TNBClow"],"range":["#000000","#000000","#22df22","#22df22","#a10d22","#a10d22"]},"legend":null}}},
    {"data":{"name":"km"},"transform":[{"filter":"datum.panel=='D' && indexof(datum.group,'low')>0"}],"mark":{"type":"line","interpolate":"step-after","strokeWidth":3.5,"strokeDash":[4,3.5]},"encoding":{"x":{"field":"t","type":"quantitative","scale":{"domain":[-55.6,318.1],"nice":false,"zero":false}},"y":{"field":"s","type":"quantitative","scale":{"domain":[-0.259,1.08],"nice":false,"zero":false}},"color":{"field":"group","type":"nominal","legend":null}}},
    {"data":{"name":"notes"},"transform":[{"filter":"datum.panel=='D'"}],"mark":{"type":"text","align":"right","baseline":"middle","font":"Open Sans","fontStyle":"italic","fontSize":21,"color":"#2277cc"},"encoding":{"x":{"datum":292.9,"type":"quantitative"},"y":{"datum":0.917,"type":"quantitative"},"text":{"field":"note"}}}
   ]}
]}
],
"config":{
 "view":{"stroke":null},
 "axis":{"domain":false,"grid":false,"zindex":1,"labelFont":"Open Sans","labelFontSize":16,"labelColor":"#333333","titleFont":"Open Sans","titleFontSize":16,"titleFontWeight":"normal","titleColor":"#333333","tickColor":"#9a9a9a","tickSize":6,"labelPadding":4,"labelFlush":false,"labelOverlap":false},
 "title":{"font":"Open Sans","fontSize":32,"fontWeight":"bold","color":"#000000","anchor":"start","baseline":"alphabetic"}
}
}
